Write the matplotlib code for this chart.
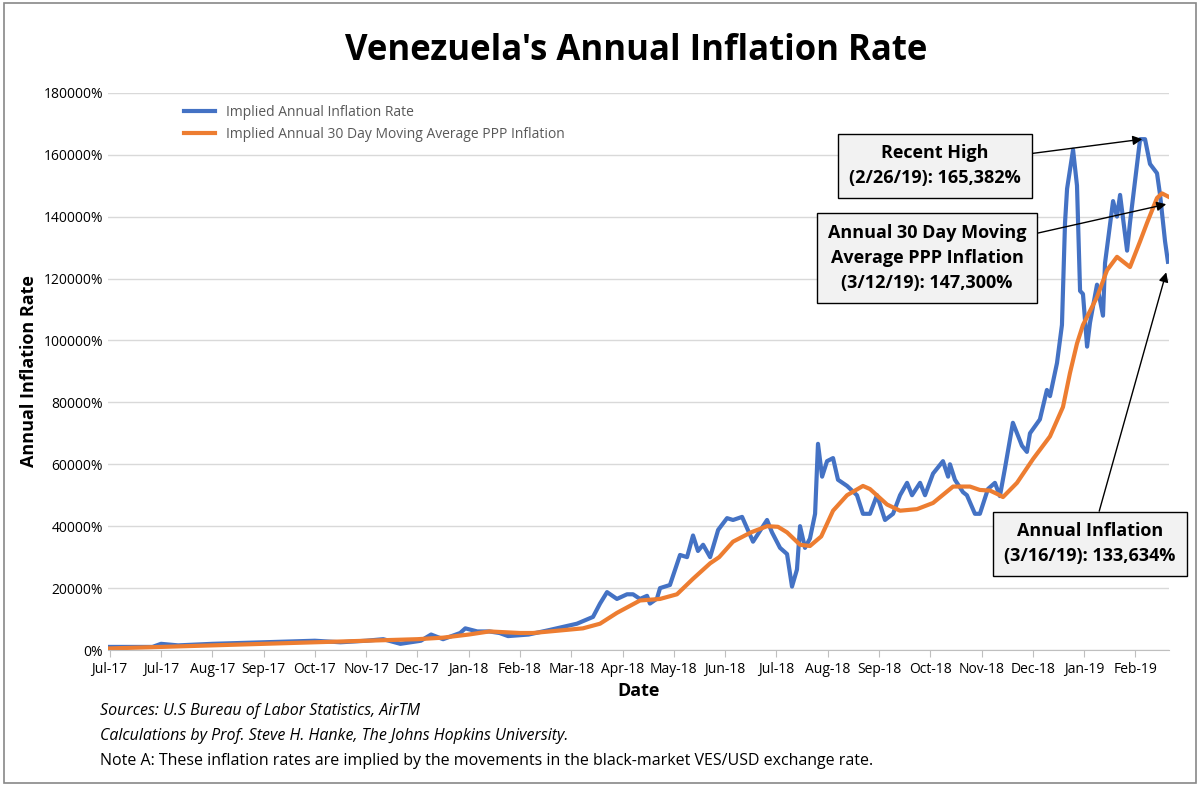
import numpy as np
import matplotlib
matplotlib.use('Agg')
import matplotlib.pyplot as plt

# days from the first tick (ticks every 30 days)
blue_day = [-1, 25, 30, 40, 60, 90, 120, 135, 150, 160, 170, 182, 188, 195, 205, 208, 215, 222, 228, 233,
            245, 257.5, 273.3, 282.7, 286.8, 290.9, 296.7, 302.6, 306.1, 310.2, 314.3, 316.0, 320.1, 321.9,
            327.7, 333.6, 337.7, 341.2, 344.1, 347.1, 351.2, 355.9, 361.1, 364.6, 369.9, 376.3, 384.5, 387.4,
            392.1, 396.2, 399.1, 402.0, 403.8, 406.7, 409.6, 412.6, 414.3, 416.7, 419.6, 423.1, 426.0, 431.3,
            437.1, 440.6, 444.7, 448.8, 453.5, 458.2, 462.3, 466.4, 469.3, 474.0, 476.9, 481.6, 487.4, 490.4,
            491.5, 494.4, 499.1, 501.4, 506.1, 509.0, 513.7, 517.8, 520.7, 523.6, 528.3, 533.6, 536.5, 538.3,
            544.1, 548.2, 550.0, 554.1, 557.0, 558.8, 560.0, 563.5, 565.8, 567.6, 569.3, 571.7, 573.4, 577.5,
            581.0, 582.2, 586.9, 589.2, 591.0, 595.1, 596.8, 602.7, 605.6, 608.5, 612.6, 614.4, 617.3, 619.0]
blue_val = [1000, 1000, 2000, 1500, 2000, 2500, 3000, 2500, 3000, 3500, 2000, 3000, 5000, 3500, 5500, 7000,
            6000, 6000, 5500, 4500, 5000, 6500, 8500, 10700, 15000, 18700, 16500, 18000, 18000, 16500, 17500,
            15000, 16600, 20000, 21000, 30700, 30000, 37000, 32000, 34000, 30000, 38800, 42600, 42000, 43000,
            35000, 42000, 38000, 33000, 31000, 20500, 26000, 40000, 33000, 36000, 44000, 66600, 56000, 61000,
            62000, 55000, 53000, 50000, 44000, 44000, 50000, 42000, 44000, 50000, 54000, 50000, 54000, 50000,
            57000, 61000, 56000, 60000, 55000, 51000, 50000, 44000, 44000, 52000, 54000, 49700, 58500, 73400,
            66000, 64000, 70000, 74500, 84000, 82000, 92700, 105000, 138000, 149000, 161600, 150000, 116000,
            115000, 98000, 105700, 118000, 108000, 125000, 145000, 140000, 147000, 129000, 138000, 165000,
            165000, 157000, 154000, 147000, 132000, 125400]
orange_day = [-1, 30, 90, 150, 180, 195, 210, 222, 240, 247.6, 276.8, 286.8, 296.7, 310.2, 321.9, 331.8,
              341.2, 351.2, 356.5, 364.6, 375.1, 384.5, 390.9, 396.2, 403.8, 409.6, 416.2, 423.1, 431.3, 440.6,
              444.7, 454.7, 462.3, 472.2, 481.6, 493.3, 503.2, 509.0, 514.9, 520.7, 522.5, 530.7, 540.1,
              550.0, 557.6, 561.7, 565.8, 569.3, 577.5, 583.4, 589.2, 596.8, 602.7, 606.8, 612.6, 615.5, 619.0]
orange_val = [500, 1000, 2000, 3000, 3500, 4000, 5000, 6000, 5500, 5500, 7000, 8500, 12000, 16000, 16500,
              18000, 23000, 28000, 30000, 35000, 38000, 40000, 39800, 38000, 34000, 33600, 36700, 45000, 50000,
              53000, 52000, 47000, 45000, 45500, 47500, 52800, 52800, 51700, 51500, 50000, 49400, 54000, 61700,
              69000, 78500, 89500, 99000, 105000, 114000, 122700, 127000, 123700, 132000, 138000, 146000,
              147500, 146500]
tick_labels = ['Jul-17', 'Jul-17', 'Aug-17', 'Sep-17', 'Oct-17', 'Nov-17', 'Dec-17', 'Jan-18', 'Feb-18',
               'Mar-18', 'Apr-18', 'May-18', 'Jun-18', 'Jul-18', 'Aug-18', 'Sep-18', 'Oct-18', 'Nov-18',
               'Dec-18', 'Jan-19', 'Feb-19']

plt.rcParams['font.family'] = ['Open Sans', 'DejaVu Sans']
fig = plt.figure(figsize=(12, 7.86), dpi=100)
ax = fig.add_axes([0.09, 0.173, 0.884, 0.709])
fig.patches.append(plt.Rectangle((0.003, 0.004), 0.994, 0.992, transform=fig.transFigure,
                                 fill=False, edgecolor='#888888', lw=1.2))

ax.plot(blue_day, blue_val, color='#4472C4', lw=3, label='Implied Annual Inflation Rate')
ax.plot(orange_day, orange_val, color='#ED7D31', lw=3, label='Implied Annual 30 Day Moving Average PPP Inflation')

ax.set_xlim(-1, 619.5)
ax.set_ylim(0, 180000)
ax.set_xticks(np.arange(len(tick_labels)) * 30)
ax.set_xticklabels(tick_labels, fontsize=10)
ax.set_yticks(np.arange(0, 180001, 20000))
ax.set_yticklabels([f'{v}%' for v in range(0, 180001, 20000)], fontsize=10)
ax.tick_params(axis='y', length=0)
ax.tick_params(axis='x', length=5, color='#bfbfbf')
ax.grid(axis='y', color='#d9d9d9', lw=1)
ax.set_axisbelow(True)
for s in ['top', 'right', 'left']:
    ax.spines[s].set_visible(False)
ax.spines['bottom'].set_color('#bfbfbf')
ax.set_xlabel('Date', fontsize=13, fontweight='bold')
ax.set_ylabel('Annual Inflation Rate', fontsize=13, fontweight='bold')
ax.legend(loc='upper left', bbox_to_anchor=(0.06, 1.0), frameon=False, fontsize=10,
          labelcolor='#595959', handlelength=2.2)

fig.text(0.53, 0.935, "Venezuela's Annual Inflation Rate", ha='center', va='center',
         fontsize=25, fontweight='bold')

box = dict(boxstyle='square,pad=0.6', fc='#f2f2f2', ec='black', lw=1)
arrow = dict(arrowstyle='-|>', color='black', lw=1, mutation_scale=14, shrinkA=0, shrinkB=0)
ax.annotate('Recent High\n(2/26/19): 165,382%', xy=(604, 165000), xytext=(935 / 1200, 1 - 166 / 786),
            textcoords='figure fraction', ha='center', va='center', fontsize=13, fontweight='bold',
            bbox=box, arrowprops=arrow, linespacing=1.5)
ax.annotate('Annual 30 Day Moving\nAverage PPP Inflation\n(3/12/19): 147,300%', xy=(618, 144000),
            xytext=(927 / 1200, 1 - 258 / 786), textcoords='figure fraction', ha='center', va='center',
            fontsize=13, fontweight='bold', bbox=box, arrowprops=arrow, linespacing=1.5)
ax.annotate('Annual Inflation\n(3/16/19): 133,634%', xy=(618, 122000), xytext=(1090 / 1200, 1 - 544 / 786),
            textcoords='figure fraction', ha='center', va='center', fontsize=13, fontweight='bold',
            bbox=box, arrowprops=arrow, linespacing=1.5)

fig.text(100 / 1200, 1 - 715 / 786, 'Sources: U.S Bureau of Labor Statistics, AirTM', fontsize=11.5, style='italic')
fig.text(100 / 1200, 1 - 740 / 786, 'Calculations by Prof. Steve H. Hanke, The Johns Hopkins University.',
         fontsize=11.5, style='italic')
fig.text(100 / 1200, 1 - 765 / 786, 'Note A: These inflation rates are implied by the movements in the '
         'black-market VES/USD exchange rate.', fontsize=11.5)

fig.savefig('out.png', dpi=100)
